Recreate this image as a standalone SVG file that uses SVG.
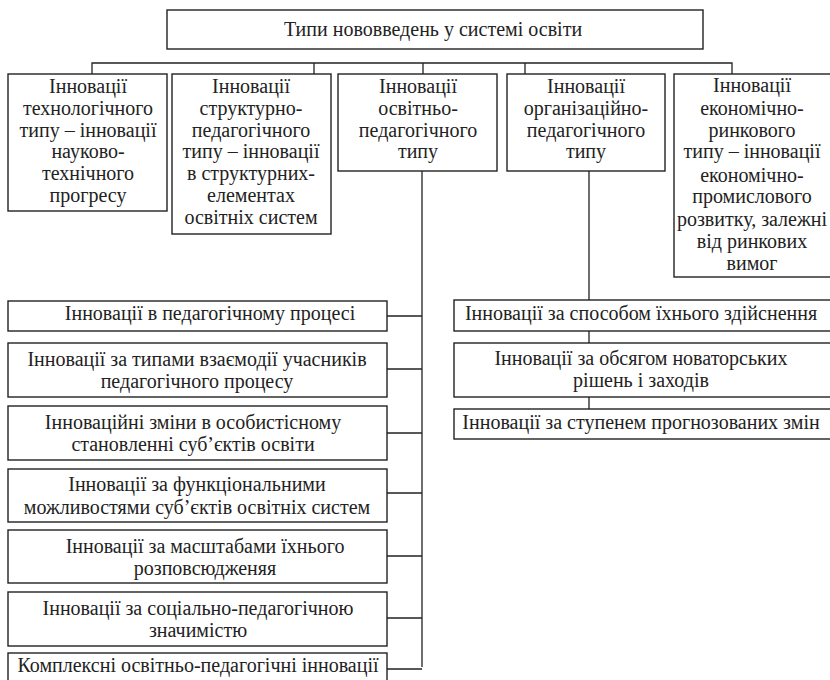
<svg xmlns="http://www.w3.org/2000/svg" width="830" height="680" viewBox="0 0 830 680">
<style>
rect{fill:#fff;stroke:#222;stroke-width:1.4}
text{font-size:20px;fill:#222;text-anchor:middle}
#connectors path{fill:none;stroke:#222;stroke-width:1.3}
</style>
<rect x="0" y="0" width="830" height="680" style="stroke:none"/>
<g id="connectors">
<path d="M92,74V63H732V74M314,63V74M423,63V74M525,63V74"/>
<path d="M422,171V667M387,316H422M387,369H422M387,433H422M387,493H422M387,556H422M387,618H422M387,669H422"/>
<path d="M589,171V300M589,331V343M589,397V409"/>
</g>
<g font-family="Liberation Serif">
<g id="root"><rect x="167" y="10" width="536" height="39"/><text x="433" y="36">Типи нововведень у системі освіти</text></g>
<g id="t1"><rect x="8" y="74" width="159" height="137"/><text><tspan x="88" y="93">Інновації</tspan><tspan x="88" y="115">технологічного</tspan><tspan x="88" y="137">типу – інновації</tspan><tspan x="88" y="158">науково-</tspan><tspan x="88" y="180">технічного</tspan><tspan x="88" y="202">прогресу</tspan></text></g>
<g id="t2"><rect x="172" y="74" width="159" height="160"/><text><tspan x="251" y="93">Інновації</tspan><tspan x="251" y="115">структурно-</tspan><tspan x="251" y="137">педагогічного</tspan><tspan x="251" y="158">типу – інновації</tspan><tspan x="251" y="180">в структурних-</tspan><tspan x="251" y="202">елементах</tspan><tspan x="251" y="224">освітніх систем</tspan></text></g>
<g id="t3"><rect x="338" y="74" width="159" height="97"/><text><tspan x="418" y="93">Інновації</tspan><tspan x="418" y="115">освітньо-</tspan><tspan x="418" y="137">педагогічного</tspan><tspan x="418" y="158">типу</tspan></text></g>
<g id="t4"><rect x="507" y="74" width="158" height="97"/><text><tspan x="586" y="93">Інновації</tspan><tspan x="586" y="115">організаційно-</tspan><tspan x="586" y="137">педагогічного</tspan><tspan x="586" y="158">типу</tspan></text></g>
<g id="t5"><rect x="674" y="74" width="160" height="203"/><text><tspan x="752" y="92">Інновації</tspan><tspan x="752" y="115">економічно-</tspan><tspan x="752" y="137">ринкового</tspan><tspan x="752" y="158">типу – інновації</tspan><tspan x="752" y="182">економічно-</tspan><tspan x="752" y="203">промислового</tspan><tspan x="752" y="226">розвитку, залежні</tspan><tspan x="752" y="248">від ринкових</tspan><tspan x="752" y="270">вимог</tspan></text></g>
<g id="l1"><rect x="8" y="301" width="379" height="30"/><text x="210" y="320">Інновації в педагогічному процесі</text></g>
<g id="l2"><rect x="8" y="343" width="379" height="54"/><text><tspan x="197" y="366">Інновації за типами взаємодії учасників</tspan><tspan x="197" y="388">педагогічного процесу</tspan></text></g>
<g id="l3"><rect x="8" y="406" width="379" height="54"/><text><tspan x="193" y="429">Інноваційні зміни в особистісному</tspan><tspan x="193" y="451">становленні суб’єктів освіти</tspan></text></g>
<g id="l4"><rect x="8" y="469" width="379" height="53"/><text><tspan x="197" y="491">Інновації за функціональними</tspan><tspan x="197" y="514">можливостями суб’єктів освітніх систем</tspan></text></g>
<g id="l5"><rect x="8" y="530" width="379" height="53"/><text><tspan x="205" y="553">Інновації за масштабами їхнього</tspan><tspan x="205" y="575">розповсюдженяя</tspan></text></g>
<g id="l6"><rect x="8" y="592" width="379" height="54"/><text><tspan x="198" y="615">Інновації за соціально-педагогічною</tspan><tspan x="198" y="637">значимістю</tspan></text></g>
<g id="l7"><rect x="8" y="653" width="379" height="32"/><text x="198" y="672">Комплексні освітньо-педагогічні інновації</text></g>
<g id="r1"><rect x="454" y="300" width="380" height="31"/><text x="641" y="320">Інновації за способом їхнього здійснення</text></g>
<g id="r2"><rect x="454" y="343" width="380" height="54"/><text><tspan x="641" y="365">Інновації за обсягом новаторських</tspan><tspan x="641" y="387">рішень і заходів</tspan></text></g>
<g id="r3"><rect x="454" y="409" width="380" height="30"/><text x="641" y="429">Інновації за ступенем прогнозованих змін</text></g>
</g>
</svg>
